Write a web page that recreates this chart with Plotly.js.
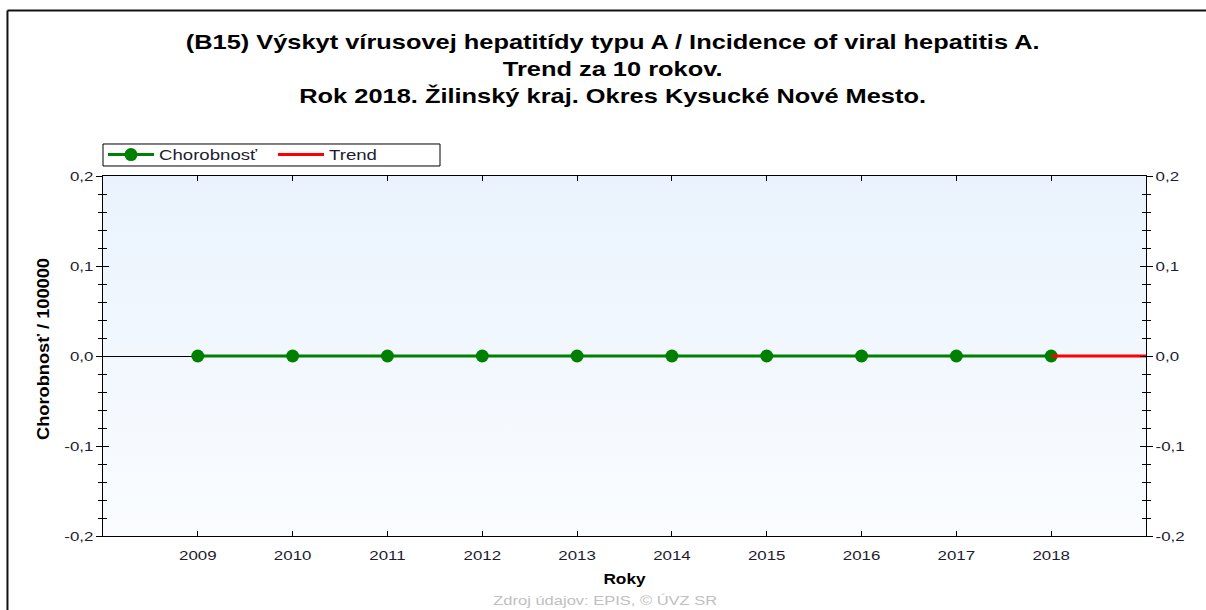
<!DOCTYPE html>
<html>
<head>
<meta charset="utf-8">
<script src="https://cdn.plot.ly/plotly-3.0.1.min.js"></script>
<style>
html,body{margin:0;padding:0;background:#fff;}
#chart{width:1206px;height:610px;}
</style>
</head>
<body>
<div id="chart"></div>
<script>
// ---- data ----
const years = [2009, 2010, 2011, 2012, 2013, 2014, 2015, 2016, 2017, 2018];
const chorobnost = [0, 0, 0, 0, 0, 0, 0, 0, 0, 0];
const trendYears = [2018, 2019];
const trendValues = [0, 0];
const yTickVals = [-0.2, -0.1, 0, 0.1, 0.2];
const yTickText = ['-0,2', '-0,1', '0,0', '0,1', '0,2'];
const titleLines = [
  '(B15) Výskyt vírusovej hepatitídy typu A / Incidence of viral hepatitis A.',
  'Trend za 10 rokov.',
  'Rok 2018. Žilinský kraj. Okres Kysucké Nové Mesto.'
];
const seriesNames = ['Chorobnosť', 'Trend'];
const xTitle = 'Roky';
const yTitle = 'Chorobnosť / 100000';
const sourceText = 'Zdroj údajov: EPIS, © ÚVZ SR';

const FONT = 'Arial, "Liberation Sans", sans-serif';
const TXT = '#1c1c30';

const gradSvg = '<svg xmlns="http://www.w3.org/2000/svg" width="10" height="100" preserveAspectRatio="none">' +
  '<defs><linearGradient id="g" x1="0" y1="0" x2="0" y2="1">' +
  '<stop offset="0" stop-color="#eaf3fd"/><stop offset="1" stop-color="#fafcff"/></linearGradient></defs>' +
  '<rect width="10" height="100" fill="url(#g)"/></svg>';
const gradUri = 'data:image/svg+xml;base64,' + btoa(gradSvg);

const hidden = {type: 'scatter', mode: 'lines', line: {color: 'rgba(0,0,0,0)', width: 0},
                showlegend: false, hoverinfo: 'skip'};

const traces = [
  {
    x: years, y: chorobnost, name: seriesNames[0], type: 'scatter', mode: 'lines+markers',
    line: {color: '#008000', width: 3}, marker: {color: '#008000', size: 13}
  },
  {
    x: trendYears, y: trendValues, name: seriesNames[1], type: 'scatter', mode: 'lines',
    line: {color: '#ff0000', width: 3}
  },
  Object.assign({x: trendYears, y: trendValues, yaxis: 'y2'}, hidden),
  Object.assign({x: trendYears, y: trendValues, yaxis: 'y3'}, hidden),
  Object.assign({x: trendYears, y: trendValues, yaxis: 'y4'}, hidden)
];

const yCommon = {
  range: [-0.2, 0.2], tickmode: 'array', tickvals: yTickVals, ticktext: yTickText,
  ticks: 'outside', ticklen: 6, tickwidth: 1, tickcolor: '#000',
  minor: {tick0: 0, dtick: 0.02, ticks: 'outside', ticklen: 4, tickcolor: '#000', tickwidth: 1},
  showgrid: false, showline: true, linecolor: '#000', linewidth: 1,
  tickfont: {family: FONT, size: 13, color: TXT}, fixedrange: true
};
const yInner = {
  range: [-0.2, 0.2], tickmode: 'array', tickvals: yTickVals, overlaying: 'y',
  ticks: 'inside', ticklen: 6, tickwidth: 1, tickcolor: '#000',
  minor: {tick0: 0, dtick: 0.02, ticks: 'inside', ticklen: 4, tickcolor: '#000', tickwidth: 1},
  showticklabels: false, showgrid: false, showline: false, zeroline: false, fixedrange: true
};

const legX1 = 337 / 1043;

const layout = {
  width: 1206, height: 610,
  margin: {l: 103, r: 60, t: 176, b: 74},
  paper_bgcolor: '#ffffff',
  plot_bgcolor: 'rgba(0,0,0,0)',
  title: {
    text: '<b>' + titleLines.join('<br>') + '</b>',
    font: {family: FONT, size: 21, color: '#000'},
    x: 0.508, xref: 'container', xanchor: 'center',
    y: 0.92, yref: 'container', yanchor: 'top'
  },
  showlegend: true,
  legend: {
    orientation: 'h', x: 0, xanchor: 'left', y: 1.0583, yanchor: 'middle',
    borderwidth: 0, bgcolor: 'rgba(0,0,0,0)',
    font: {family: FONT, size: 14, color: TXT},
    entrywidth: 109, itemwidth: 46
  },
  xaxis: {
    range: [2008, 2019], tickmode: 'array', tickvals: years, ticktext: years.map(String),
    ticks: 'inside', ticklen: 5, tickcolor: '#000', mirror: 'ticks', ticklabelstandoff: 7,
    showline: true, linecolor: '#000', linewidth: 1, showgrid: false, zeroline: false,
    tickfont: {family: FONT, size: 13, color: TXT},
    title: {text: '<b>' + xTitle + '</b>', font: {family: FONT, size: 15, color: '#000'}, standoff: 11},
    fixedrange: true
  },
  yaxis: Object.assign({}, yCommon, {
    zeroline: true, zerolinecolor: '#000', zerolinewidth: 1,
    title: {text: '<b>' + yTitle + '</b>', font: {family: FONT, size: 16, color: '#000'}, standoff: 17}
  }),
  yaxis2: Object.assign({}, yCommon, {overlaying: 'y', side: 'right', zeroline: false}),
  yaxis3: Object.assign({}, yInner, {side: 'left'}),
  yaxis4: Object.assign({}, yInner, {side: 'right'}),
  images: [{
    source: gradUri, xref: 'paper', yref: 'paper', x: 0, y: 1, sizex: 1, sizey: 1,
    sizing: 'stretch', xanchor: 'left', yanchor: 'top', layer: 'below'
  }],
  shapes: [
    {type: 'line', xref: 'paper', yref: 'paper', x0: -0.0916, x1: 1.06, y0: 1.4597, y1: 1.4597,
     line: {color: '#111', width: 2}},
    {type: 'line', xref: 'paper', yref: 'paper', x0: -0.0916, x1: -0.0916, y0: 1.4597, y1: -0.3,
     line: {color: '#111', width: 2}},
    {type: 'rect', xref: 'paper', yref: 'paper', x0: 0, x1: legX1, y0: 1.0278, y1: 1.0889,
     line: {color: '#000', width: 1}, fillcolor: '#ffffff'}
  ],
  annotations: [{
    text: sourceText, xref: 'paper', yref: 'paper', x: 0.481, y: -0.1778,
    xanchor: 'center', yanchor: 'middle', showarrow: false,
    font: {family: FONT, size: 13, color: '#c0c0c0'}
  }]
};

// horizontal widening of the texts, to follow the wide lettering of the reference
// [selector, widening factor, screen shift x, screen shift y]
const stretchRules = [
  ['.gtitle', 1.21, 0, 0],
  ['[class$="tick"] > text', 1.3, 0, 0],
  ['.legendtext', 1.33, 0, 0],
  ['.xtitle', 1.15, 0, 0],
  ['.ytitle', 1.14, 0, -7],
  ['.annotation-text', 1.27, 0, 0]
];
function stretchTexts() {
  const root = document.getElementById('chart');
  stretchRules.forEach(([sel, k, dx, dy]) => {
    root.querySelectorAll(sel).forEach(el => {
      const t = el.getAttribute('transform') || '';
      if (t.indexOf('scale(' + k + ',1)') >= 0) return;
      const x = parseFloat(el.getAttribute('x')) || 0;
      const y = parseFloat(el.getAttribute('y')) || 0;
      const shift = (dx || dy) ? 'translate(' + dx + ',' + dy + ') ' : '';
      el.setAttribute('transform', (shift + t + ' translate(' + x + ',' + y + ') scale(' + k + ',1) translate(' + (-x) + ',' + (-y) + ')').trim());
    });
  });
}

Plotly.newPlot('chart', traces, layout, {displayModeBar: false, staticPlot: true}).then(gd => {
  stretchTexts();
  gd.on('plotly_afterplot', stretchTexts);
});
</script>
</body>
</html>
